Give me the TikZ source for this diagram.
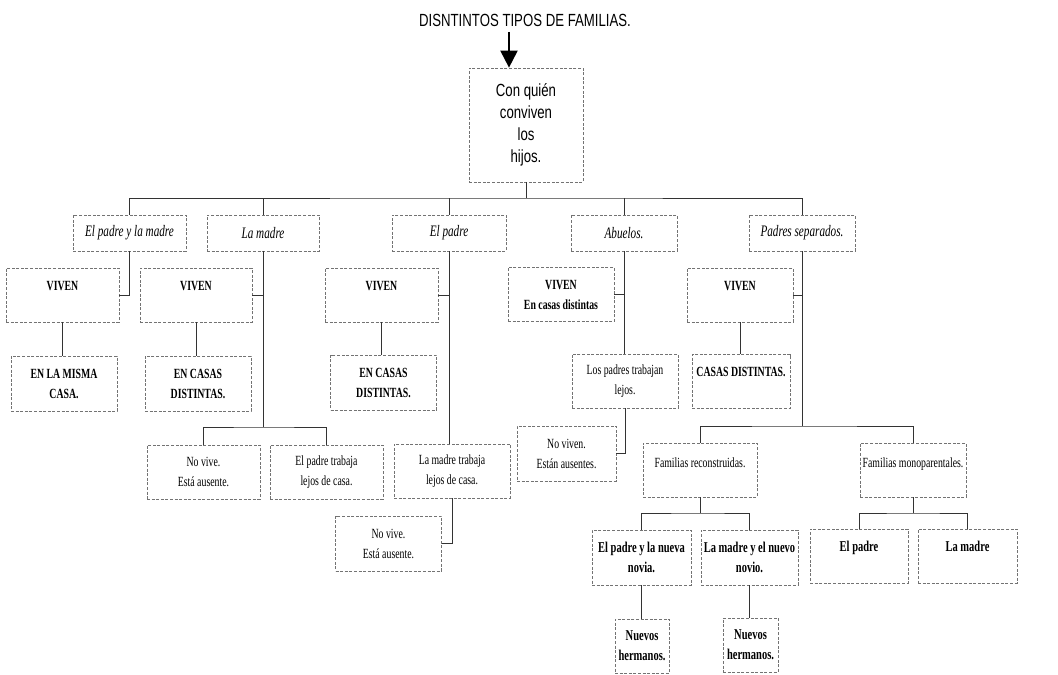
\documentclass[tikz,border=0pt]{standalone}
\usepackage{fontspec}
\newfontfamily\narrowserif[FakeStretch=0.7]{Liberation Serif}
\newfontfamily\narrowsans[FakeStretch=0.75]{Liberation Sans}
\usetikzlibrary{arrows.meta}

\tikzset{
  box/.style={draw=black!55, dash pattern=on 1.5pt off 0.8pt, line width=0.35pt,
    inner xsep=1pt, inner ysep=0pt, minimum width=53pt, minimum height=27pt,
    align=center, font=\narrowserif\fontsize{7}{10}\selectfont},
  tbox/.style={box, text height=12pt, text depth=15pt},
  bbox/.style={box, font=\narrowserif\bfseries\fontsize{7}{10}\selectfont},
  btop/.style={bbox, text height=11pt, text depth=16pt},
  big/.style={font=\narrowserif\bfseries\fontsize{7.5}{10}\selectfont},
  hd/.style={box, minimum height=18pt, font=\narrowserif\itshape\fontsize{8}{10}\selectfont},
  conn/.style={draw=black!80, line width=0.5pt},
}

\begin{document}
\begin{tikzpicture}[x=0.5pt,y=-0.5pt]
  \useasboundingbox (0,0) rectangle (1058,674);

  % title and root
  \node[font=\narrowsans\fontsize{8.8}{11}\selectfont] (T) at (525,20.6) {DISNTINTOS TIPOS DE FAMILIAS.};
  \node[box, minimum width=57pt, minimum height=57pt,
    font=\narrowsans\fontsize{8.8}{11}\selectfont] (R) at (526,125) {Con quién\\conviven\\los\\hijos.};
  \coordinate (T0) at (509,32);
  \draw[line width=1pt, -{Triangle[width=8.5pt,length=8.5pt]}] (T0) -- (T0 |- R.north);

  % first level
  \node[hd, minimum width=56.5pt] (PM) at (129.5,233) {El padre y la madre};
  \node[hd, minimum width=56pt] (M) at (263,233) {La madre};
  \node[hd, minimum width=57pt] (P) at (449,233) {El padre};
  \node[hd] (A) at (624,233) {Abuelos.};
  \node[hd] (PS) at (802,233) {Padres separados.};

  \coordinate (Rj) at (526,198);
  \draw[conn] (R.south) -- (Rj);
  \draw[conn] (PM.north) |- (Rj) -| (PS.north);
  \foreach \n in {M,P,A} \draw[conn] (\n.north) -- (\n.north |- Rj);

  % viven
  \node[btop, minimum width=56.5pt] (V1) at (62.5,295) {VIVEN};
  \node[btop, minimum width=56pt] (V2) at (196,295) {VIVEN};
  \node[btop, minimum width=56.5pt] (V3) at (381.5,295) {VIVEN};
  \node[bbox] (V4) at (561,294.5) {VIVEN\\En casas distintas};
  \node[btop] (V5) at (740,295) {VIVEN};

  \node[bbox, minimum height=27.5pt] (C1) at (64,383.5) {EN LA MISMA\\CASA.};
  \node[bbox, minimum height=27.5pt] (C2) at (198,383.5) {EN CASAS\\DISTINTAS.};
  \node[bbox, minimum height=27.5pt] (C3) at (383.5,382.5) {EN CASAS\\DISTINTAS.};
  \node[box] (LP) at (625,381) {Los padres trabajan\\lejos.};
  \node[btop, minimum width=49pt] (CD) at (741,381.5) {CASAS DISTINTAS.};

  \node[box, minimum width=56.5pt] (NV1) at (203.5,472) {No vive.\\Está ausente.};
  \node[box, minimum width=56.5pt] (PT) at (326.5,472) {El padre trabaja\\lejos de casa.};
  \node[box, minimum width=58pt] (MT) at (452,471) {La madre trabaja\\lejos de casa.};
  \node[box, minimum height=27.5pt] (NV2) at (388.5,543.5) {No vive.\\Está ausente.};
  \node[box, minimum width=49.5pt, minimum height=27.5pt] (NVn) at (566.5,453.5) {No viven.\\Están ausentes.};
  \node[tbox, minimum width=57pt] (FR) at (700,470) {Familias reconstruidas.};
  \node[tbox] (FM) at (913,470) {Familias monoparentales.};

  \node[bbox, big, minimum width=49.5pt, minimum height=27.5pt] (PN) at (641.5,557.5) {El padre y la nueva\\novia.};
  \node[bbox, big, minimum width=48.5pt, minimum height=27.5pt] (MN) at (749.5,557.5) {La madre y el nuevo\\novio.};
  \node[btop, big, minimum width=49pt] (EP) at (859,556) {El padre};
  \node[btop, big, minimum width=49.5pt] (LM) at (967.5,556) {La madre};
  \node[bbox, big, minimum width=27pt] (NH1) at (642,646) {Nuevos\\hermanos.};
  \node[bbox, big, minimum width=27.5pt] (NH2) at (750.5,645) {Nuevos\\hermanos.};

  % connectors
  \draw[conn] (PM.south) |- (V1.east);
  \draw[conn] (V1.south) -- (V1.south |- C1.north);

  \coordinate (Mj) at (263,427);
  \draw[conn] (M.south) |- (V2.east);
  \draw[conn] (M.south) -- (Mj);
  \draw[conn] (NV1.north) |- (Mj) -| (PT.north);
  \draw[conn] (V2.south) -- (V2.south |- C2.north);

  \draw[conn] (P.south) |- (V3.east);
  \draw[conn] (P.south) -- (P.south |- MT.north);
  \draw[conn] (V3.south) -- (V3.south |- C3.north);
  \draw[conn] (MT.south) |- (NV2.east);

  \draw[conn] (A.south) |- (V4.east);
  \draw[conn] (A.south) -- (A.south |- LP.north);
  \draw[conn] (LP.south) |- (NVn.east);

  \coordinate (Sj) at (802,426);
  \draw[conn] (PS.south) |- (V5.east);
  \draw[conn] (PS.south) -- (Sj);
  \draw[conn] (FR.north) |- (Sj) -| (FM.north);
  \draw[conn] (V5.south) -- (V5.south |- CD.north);

  \coordinate (Fj) at (700,513);
  \draw[conn] (FR.south) -- (Fj);
  \draw[conn] (PN.north) |- (Fj) -| (MN.north);
  \coordinate (Gj) at (913,513);
  \draw[conn] (FM.south) -- (Gj);
  \draw[conn] (EP.north) |- (Gj) -| (LM.north);
  \draw[conn] (PN.south) -- (PN.south |- NH1.north);
  \draw[conn] (MN.south) -- (MN.south |- NH2.north);
\end{tikzpicture}
\end{document}
